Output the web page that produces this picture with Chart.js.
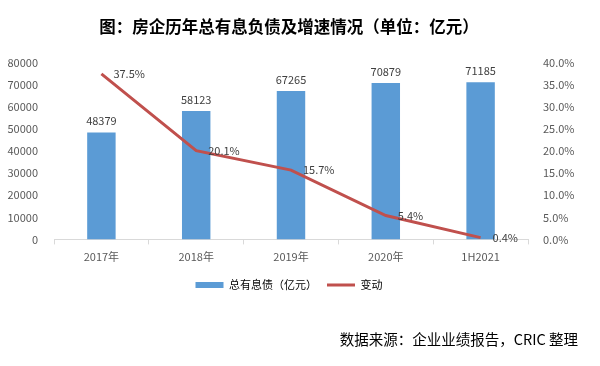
<!DOCTYPE html>
<html>
<head>
<meta charset="utf-8">
<script src="https://cdn.jsdelivr.net/npm/chart.js@4"></script>
<style>
  html, body { margin: 0; padding: 0; background: #fff; }
  #wrap { width: 600px; height: 366px; }
</style>
</head>
<body>
<div id="wrap"><canvas id="chart" width="600" height="366"></canvas></div>
<script>
// data
const categories = ["2017年", "2018年", "2019年", "2020年", "1H2021"];
const debtValues = [48379, 58123, 67265, 70879, 71185];
const growthValues = [37.5, 20.1, 15.7, 5.4, 0.4];

const FONT = "'Noto Sans CJK SC', 'DejaVu Sans', sans-serif";
const GREY = "#595959";
const BLUE = "#5B9BD5";
const RED = "#C0504D";

// draws the value labels on bars and line points
const valueLabels = {
    id: "valueLabels",
    afterDatasetsDraw(chart) {
        const ctx = chart.ctx;
        ctx.save();
        ctx.font = "11px " + FONT;
        ctx.fillStyle = "#404040";
        chart.getDatasetMeta(0).data.forEach((el, i) => {
            ctx.textAlign = "center";
            ctx.textBaseline = "bottom";
            ctx.fillText(String(debtValues[i]), el.x, el.y - 6);
        });
        chart.getDatasetMeta(1).data.forEach((el, i) => {
            ctx.textAlign = "left";
            ctx.textBaseline = "middle";
            ctx.fillText(growthValues[i].toFixed(1) + "%", el.x + 12, el.y);
        });
        ctx.restore();
    }
};

new Chart(document.getElementById("chart").getContext("2d"), {
    data: {
        labels: categories,
        datasets: [{
            type: "bar",
            label: "总有息债（亿元）",
            data: debtValues,
            backgroundColor: BLUE,
            borderWidth: 0,
            categoryPercentage: 0.3,
            barPercentage: 1,
            yAxisID: "y",
            order: 2
        }, {
            type: "line",
            label: "变动",
            data: growthValues,
            borderColor: RED,
            backgroundColor: RED,
            borderWidth: 3,
            pointRadius: 0,
            tension: 0,
            yAxisID: "y1",
            order: 1
        }]
    },
    options: {
        responsive: false,
        animation: false,
        layout: { padding: { left: 0, right: 22, top: 0, bottom: 12 } },
        scales: {
            x: {
                offset: true,
                grid: { display: true, drawOnChartArea: false, offset: true, tickLength: 5, color: "#D9D9D9" },
                border: { color: "#D9D9D9" },
                ticks: { color: GREY, font: { family: FONT, size: 11 }, padding: 6 }
            },
            y: {
                position: "left",
                min: 0, max: 80000,
                grid: { display: false },
                border: { display: false },
                ticks: {
                    stepSize: 10000, color: GREY, font: { family: FONT, size: 11 }, padding: 8,
                    callback: v => String(v)
                },
                afterFit(scale) { scale.width = 54; }
            },
            y1: {
                position: "right",
                min: 0, max: 40,
                grid: { display: false },
                border: { display: false },
                ticks: {
                    stepSize: 5, color: GREY, font: { family: FONT, size: 11 }, padding: 7,
                    callback: v => v.toFixed(1) + "%"
                },
                afterFit(scale) { scale.width = 50; }
            }
        },
        plugins: {
            title: {
                display: true,
                text: "图：房企历年总有息负债及增速情况（单位：亿元）",
                color: "#000",
                font: { family: FONT, size: 16.5, weight: "bold" },
                padding: { top: 17, bottom: 26 }
            },
            legend: {
                position: "bottom",
                labels: {
                    color: GREY,
                    font: { family: FONT, size: 11 },
                    usePointStyle: true,
                    pointStyleWidth: 28,
                    boxHeight: 6,
                    padding: 10,
                    generateLabels(chart) {
                        return chart.data.datasets.map((ds, i) => ({
                            text: ds.label,
                            fillStyle: ds.type === "line" ? RED : BLUE,
                            strokeStyle: ds.type === "line" ? RED : BLUE,
                            lineWidth: ds.type === "line" ? 3 : 0,
                            pointStyle: ds.type === "line" ? "line" : "rect",
                            datasetIndex: i
                        }));
                    }
                }
            },
            subtitle: {
                display: true,
                position: "bottom",
                align: "end",
                text: "数据来源：企业业绩报告，CRIC 整理",
                color: "#000",
                font: { family: FONT, size: 14.5 },
                padding: { top: 30, bottom: 6 }
            },
            tooltip: { enabled: false }
        }
    },
    plugins: [valueLabels]
});
</script>
</body>
</html>
